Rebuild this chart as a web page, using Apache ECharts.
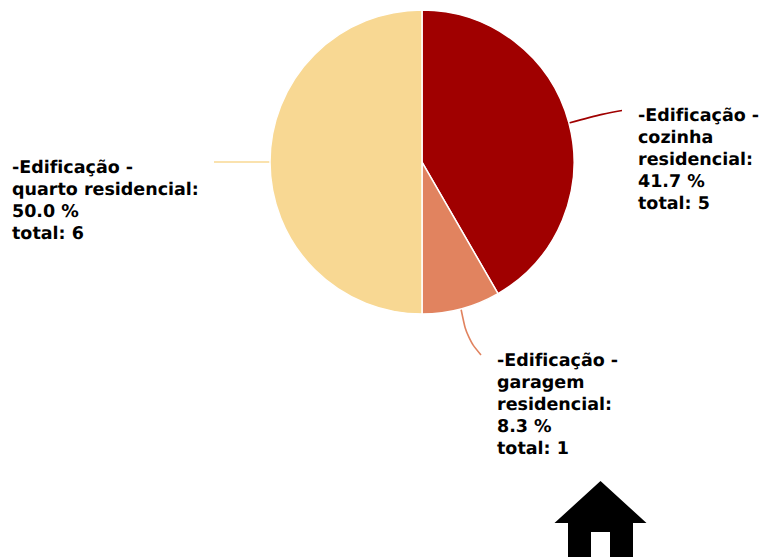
<!DOCTYPE html>
<html><head><meta charset="utf-8">
<style>html,body{margin:0;padding:0;background:#fff}#c{width:761px;height:557px;font-variant-ligatures:none}#c text{font-variant-ligatures:none;text-rendering:geometricPrecision}</style>
<script src="https://cdn.jsdelivr.net/npm/echarts@6/dist/echarts.min.js"></script>
</head><body><div id="c"></div>
<script>
const categories = ['cozinha residencial', 'garagem residencial', 'quarto residencial'];
const labelNames = ['-Edificação -\ncozinha\nresidencial:', '-Edificação -\ngaragem\nresidencial:', '-Edificação -\nquarto residencial:'];
const totals = [5, 1, 6];
const percents = ['41.7', '8.3', '50.0'];
const colors = ['#a00000', '#e1835f', '#f8d893'];
const labelAnchors = [[638, 105], [497, 350], [12, 157]];
const labelLines = [
  [[569, 123], [602, 114], [622, 110.5]],
  [[461, 309], [467, 338], [481, 355]],
  [[270, 162], [240, 162], [214, 162]]
];

const chart = echarts.init(document.getElementById('c'), null, {renderer: 'svg'});
chart.setOption({
  animation: false,
  backgroundColor: '#fff',
  series: [{
    type: 'pie',
    center: [422, 162],
    radius: [0, 152],
    startAngle: 90,
    clockwise: true,
    data: categories.map((n, i) => ({
      name: n, value: totals[i],
      itemStyle: {color: colors[i]},
      label: {formatter: labelNames[i] + '\n' + percents[i] + ' %\ntotal: ' + totals[i]},
      labelLine: {lineStyle: {color: colors[i], width: 1.6}}
    })),
    itemStyle: {borderColor: '#fff', borderWidth: 1.5},
    label: {
      show: true, color: '#000', fontFamily: '"DejaVu Sans"', fontWeight: 'bold',
      fontSize: 17.5, lineHeight: 22, align: 'left', position: 'outside'
    },
    labelLine: {show: true, smooth: 0.4},
    labelLayout: params => {
      const i = params.dataIndex;
      return {
        x: labelAnchors[i][0], y: labelAnchors[i][1],
        align: 'left', verticalAlign: 'top',
        hideOverlap: false, moveOverlap: false,
        labelLinePoints: labelLines[i]
      };
    }
  }],
  graphic: [{
    type: 'polygon', silent: true,
    shape: {points: [[600.5,481],[646.5,523],[633,523],[633,557],[610,557],[610,532],[591,532],[591,557],[568,557],[568,523],[554.5,523]]},
    style: {fill: '#000'}
  }]
});
</script></body></html>
